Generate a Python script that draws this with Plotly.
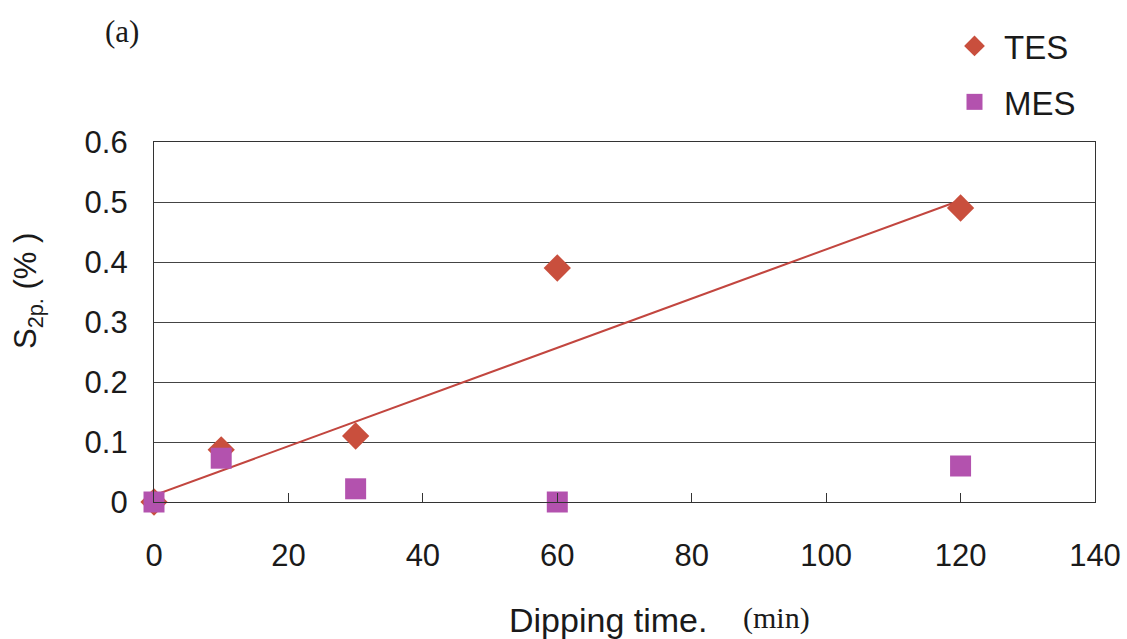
import plotly.graph_objects as go

# Data
time_min = [0, 10, 30, 60, 120]
tes_values = [0.0, 0.087, 0.11, 0.39, 0.49]
mes_values = [0.0, 0.073, 0.022, 0.0, 0.06]
trend_x = [0, 120]
trend_y = [0.011, 0.503]
x_ticks = [0, 20, 40, 60, 80, 100, 120, 140]
y_ticks = [0, 0.1, 0.2, 0.3, 0.4, 0.5, 0.6]
y_tick_labels = ["0", "0.1", "0.2", "0.3", "0.4", "0.5", "0.6"]

TES_COLOR = "#C94F3D"
MES_COLOR = "#B352AE"
TEXT = "#1a1a1a"
SANS = "Liberation Sans, Arial, sans-serif"
SERIF = "Liberation Serif, serif"

fig = go.Figure()
fig.add_trace(go.Scatter(x=trend_x, y=trend_y, mode="lines",
                         line=dict(color="#C2463F", width=2), showlegend=False,
                         hoverinfo="skip", cliponaxis=False))
fig.add_trace(go.Scatter(x=time_min, y=tes_values, mode="markers", name="TES",
                         legendgroup="a", cliponaxis=False,
                         marker=dict(symbol="diamond", size=21, color=TES_COLOR)))
fig.add_trace(go.Scatter(x=time_min, y=mes_values, mode="markers", name="MES",
                         legendgroup="b", cliponaxis=False,
                         marker=dict(symbol="square", size=21, color=MES_COLOR)))

L, R, T, B = 154, 32, 142, 137
W, H = 1127, 639
pw, ph = W - L - R, H - T - B

def px(x):
    return (x - L) / pw

def py(y):
    return (H - B - y) / ph

def note(text, x, y, family, size, angle=0):
    return dict(text=text, x=px(x), y=py(y), xref="paper", yref="paper",
                xanchor="center", yanchor="middle", showarrow=False,
                textangle=angle, font=dict(family=family, size=size, color=TEXT))

fig.update_layout(
    width=W, height=H,
    margin=dict(l=L, r=R, t=T, b=B, pad=0, autoexpand=False),
    paper_bgcolor="white", plot_bgcolor="white",
    font=dict(family=SANS, size=31, color=TEXT),
    showlegend=True,
    legend=dict(x=px(945), y=py(18), xanchor="left", yanchor="top",
                font=dict(family=SANS, size=33, color=TEXT), bgcolor="rgba(0,0,0,0)",
                tracegroupgap=10, itemwidth=49),
    xaxis=dict(range=[0, 140], tickvals=x_ticks, ticks="inside", ticklen=9,
               tickcolor="#333", showgrid=False, zeroline=False, automargin=False,
               showline=True, linecolor="#333", linewidth=1.2, mirror=True,
               ticklabelstandoff=26, tickfont=dict(family=SANS, size=31, color=TEXT)),
    yaxis=dict(range=[0, 0.6], tickvals=y_ticks, ticktext=y_tick_labels,
               ticks="", showgrid=True, gridcolor="#444", gridwidth=1, automargin=False,
               zeroline=False, showline=True, linecolor="#333", linewidth=1.2,
               mirror=True, ticklabelstandoff=19, tickfont=dict(family=SANS, size=31, color=TEXT)),
    annotations=[
        note("(a)", 122, 31, SERIF, 31),
        note("S<sub>2p.</sub> (% )", 28, 291, SANS, 31, angle=-90),
        note("Dipping time.", 608, 620, SANS, 34),
        note("(min)", 776, 618, SERIF, 30),
    ],
)

fig.write_html("out.html")
